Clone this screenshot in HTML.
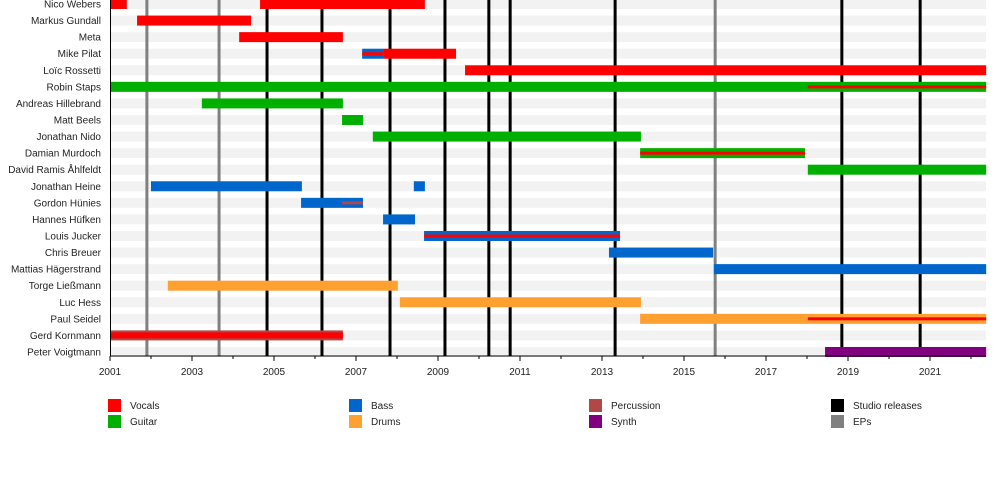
<!DOCTYPE html>
<html><head><meta charset="utf-8"><style>
body{margin:0;background:#fff;font-family:"Liberation Sans",sans-serif}
svg text{font-family:"Liberation Sans",sans-serif;font-size:10px;fill:#222}
</style></head><body>
<svg id="c" width="1000" height="475"></svg>
<script>
const members=["Nico Webers","Markus Gundall","Meta","Mike Pilat","Loïc Rossetti","Robin Staps","Andreas Hillebrand","Matt Beels","Jonathan Nido","Damian Murdoch","David Ramis Åhlfeldt","Jonathan Heine","Gordon Hünies","Hannes Hüfken","Louis Jucker","Chris Breuer","Mattias Hägerstrand","Torge Ließmann","Luc Hess","Paul Seidel","Gerd Kornmann","Peter Voigtmann"];
// [member index, start, end, role]
const bars=[[0,2001,2001.41,"vocals"],[0,2004.66,2008.68,"vocals"],[1,2001.66,2004.44,"vocals"],[2,2004.15,2006.68,"vocals"],[3,2007.15,2007.66,"bass"],[3,2007.66,2009.44,"vocals"],[4,2009.66,2022.37,"vocals"],[5,2001,2022.37,"guitar"],[6,2003.24,2006.68,"guitar"],[7,2006.66,2007.17,"guitar"],[8,2007.41,2013.95,"guitar"],[9,2013.93,2017.95,"guitar"],[10,2018.02,2022.37,"guitar"],[11,2002,2005.68,"bass"],[11,2008.41,2008.68,"bass"],[12,2005.66,2007.17,"bass"],[13,2007.66,2008.44,"bass"],[14,2008.66,2013.44,"bass"],[15,2013.17,2015.71,"bass"],[16,2015.73,2022.37,"bass"],[17,2002.41,2008.02,"drums"],[18,2008.07,2013.95,"drums"],[19,2013.93,2022.37,"drums"],[20,2001,2006.68,"percussion"],[21,2018.44,2022.37,"synth"]];
// secondary lines [member, start, end, role, thickness]
const lines=[[3,2007.15,2007.66,"vocals",3],[5,2018.02,2022.37,"vocals",3],[9,2013.93,2017.95,"vocals",3],[12,2006.66,2007.17,"percussion",3],[14,2008.66,2013.44,"vocals",3],[19,2018.02,2022.37,"vocals",3],[20,2001,2006.68,"vocals",6]];
const studio=[2004.83,2006.17,2007.83,2009.17,2010.24,2010.76,2013.32,2018.85,2020.76];
const eps=[2001.9,2003.66,2015.76];
const tickYears=[2001,2003,2005,2007,2009,2011,2013,2015,2017,2019,2021];
const colors={vocals:"#ff0000",guitar:"#00b000",bass:"#0066cc",drums:"#ffa030",percussion:"#b04848",synth:"#800080"};
const NS="http://www.w3.org/2000/svg",svg=document.getElementById('c');
const x=y=>110+(y-2001)*41, X1=986;
const yr=i=>4+i*16.57;
function el(t,a,p){const e=document.createElementNS(NS,t);for(const k in a)e.setAttribute(k,a[k]);(p||svg).appendChild(e);return e;}
members.forEach((m,i)=>{
 const s=el('rect',{x:110,y:yr(i)-5,width:X1-110,height:10,fill:'#f2f2f2'});
 
 
 const t=el('text',{x:101,y:yr(i)+3.5,'text-anchor':'end'});t.textContent=m;
 
 
});
eps.forEach(v=>{const l=el('line',{x1:x(v),x2:x(v),y1:0,y2:356,stroke:'#808080','stroke-width':3});
 
 });
studio.forEach(v=>{const l=el('line',{x1:x(v),x2:x(v),y1:0,y2:356,stroke:'#000','stroke-width':3});
 
 });
bars.forEach(b=>{const r=el('rect',{x:x(b[1]),y:yr(b[0])-5,width:x(b[2])-x(b[1]),height:10,fill:colors[b[3]]});
 
 });
lines.forEach(b=>{const r=el('rect',{x:x(b[1]),y:yr(b[0])-b[4]/2,width:x(b[2])-x(b[1]),height:b[4],fill:colors[b[3]]});
 
 });
const ax=el('line',{x1:110,x2:X1,y1:356,y2:356,stroke:'#000','stroke-width':1});


const ay=el('line',{x1:110.5,x2:110.5,y1:0,y2:356,stroke:'#000','stroke-width':1});


for(let v=2001;v<=2022;v++){const t=el('line',{x1:x(v),x2:x(v),y1:356,y2:tickYears.includes(v)?361:359,stroke:'#000'});
 
 }
tickYears.forEach(v=>{const t=el('text',{x:x(v),y:375,'text-anchor':'middle'});t.textContent=v;
 
 });
const legend=[["Vocals",colors.vocals,108,405],["Guitar",colors.guitar,108,421],["Bass",colors.bass,349,405],["Drums",colors.drums,349,421],["Percussion",colors.percussion,589,405],["Synth",colors.synth,589,421],["Studio releases","#000",831,405],["EPs","#808080",831,421]];
legend.forEach(l=>{const g=el('g',{});
 
 
 el('rect',{x:l[2],y:l[3]-6,width:13,height:13,fill:l[1]},g);
 const t=el('text',{x:l[2]+22,y:l[3]+4},g);t.textContent=l[0];});
</script></body></html>
